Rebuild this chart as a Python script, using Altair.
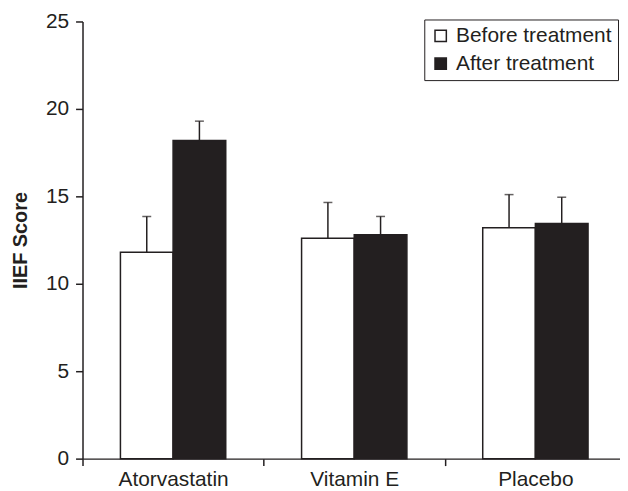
import altair as alt
import pandas as pd

groups = ["Atorvastatin", "Vitamin E", "Placebo"]
treatments = ["Before treatment", "After treatment"]
before_mean = [11.8, 12.6, 13.2]
before_upper = [13.85, 14.65, 15.1]
after_mean = [18.2, 12.8, 13.45]
after_upper = [19.3, 13.85, 14.95]

rows = []
for i, g in enumerate(groups):
    rows.append({"group": g, "treatment": treatments[0], "value": before_mean[i], "upper": before_upper[i]})
    rows.append({"group": g, "treatment": treatments[1], "value": after_mean[i], "upper": after_upper[i]})
df = pd.DataFrame(rows)

INK = "#231f20"
FONT = "Liberation Sans"

base = alt.Chart(df).encode(
    x=alt.X(
        "group:N",
        sort=groups,
        scale=alt.Scale(paddingInner=0, paddingOuter=0, range=[0, 547]),
        axis=alt.Axis(
            title=None, labelAngle=0, tickBand="extent", tickSize=7, tickWidth=1.5,
            domainWidth=1.5, labelPadding=3, labelFontSize=21,
        ),
    ),
    xOffset=alt.XOffset(
        "treatment:N", sort=treatments,
        scale=alt.Scale(domain=treatments, paddingInner=0, paddingOuter=0.72),
    ),
)

yenc = alt.Y(
    "value:Q",
    scale=alt.Scale(domain=[0, 25], nice=False),
    axis=alt.Axis(
        title="IIEF Score", values=[0, 5, 10, 15, 20, 25], tickSize=7, tickWidth=1.5,
        domainWidth=1.5, labelPadding=7, labelFontSize=21, grid=False,
        titleFontSize=20, titleFontWeight="bold", titlePadding=15,
    ),
)

bars = base.mark_bar(stroke=INK, strokeWidth=1.5).encode(
    y=yenc,
    fill=alt.Fill(
        "treatment:N",
        sort=treatments,
        scale=alt.Scale(domain=treatments, range=["white", INK]),
        legend=alt.Legend(
            title=None, orient="none", legendX=344, legendY=-2,
            symbolType="square", symbolSize=130, symbolStrokeColor=INK,
            symbolStrokeWidth=1.5, labelFontSize=21, labelOffset=5,
            rowPadding=6, padding=6, strokeColor=INK, fillColor="white",
        ),
    ),
)

rules = base.mark_rule(color=INK, strokeWidth=1.5).encode(
    y=alt.Y("value:Q"), y2=alt.Y2("upper:Q")
)
caps = base.mark_tick(color=INK, size=9, thickness=1.5).encode(y=alt.Y("upper:Q"))

chart = alt.layer(bars, rules, caps).properties(
    width=541, height=440,
    autosize=alt.AutoSizeParams(type="none"),
    padding={"left": 75, "top": 12, "right": 0, "bottom": 30},
).configure_view(stroke=None).configure_axis(
    labelFont=FONT, titleFont=FONT, labelColor=INK, titleColor=INK,
    domainColor=INK, tickColor=INK,
).configure_legend(labelFont=FONT, labelColor=INK)

chart.save("out.html", embed_options={"renderer": "svg", "actions": False})
